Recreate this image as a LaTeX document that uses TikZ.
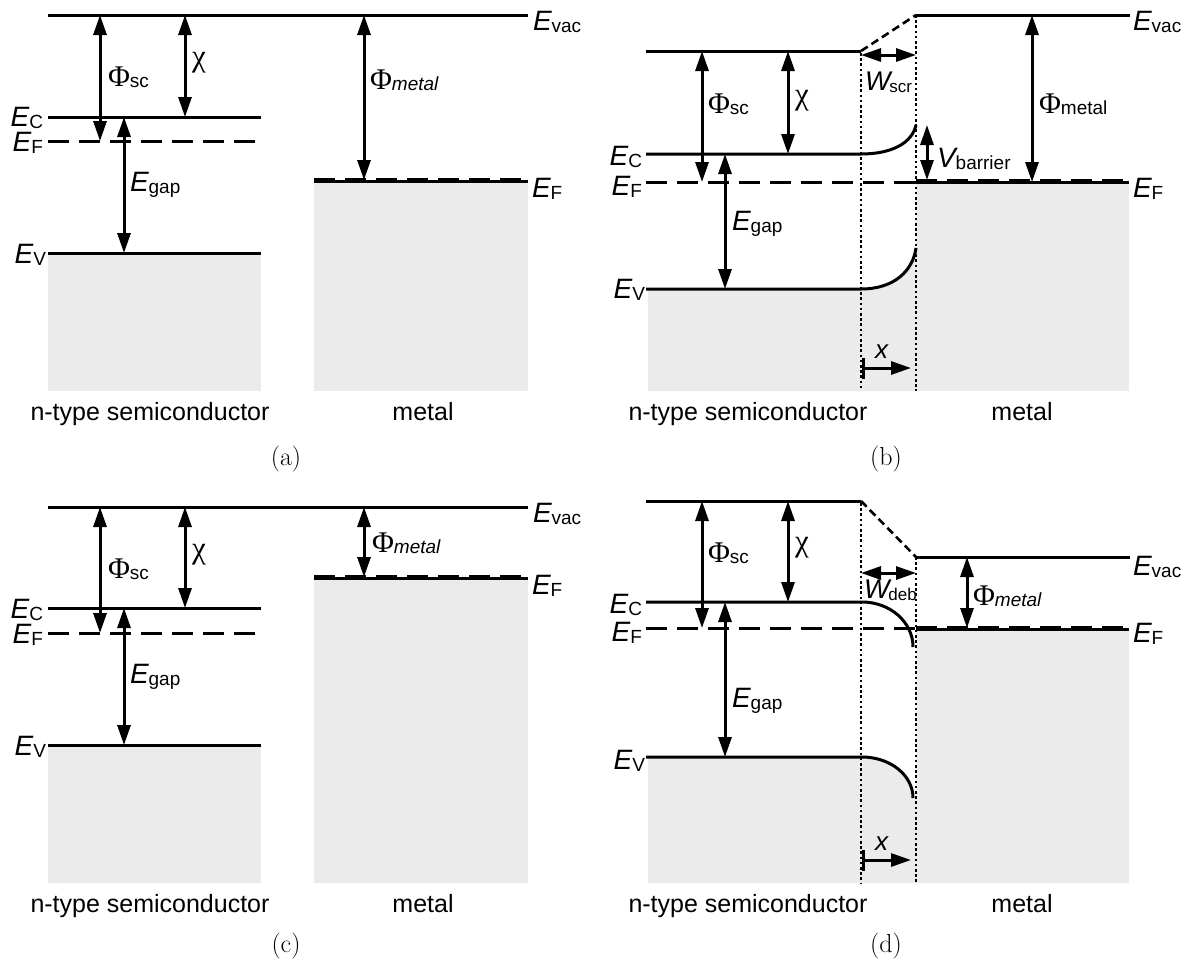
\documentclass[tikz,border=0pt]{standalone}
\usepackage{fontspec}
\newfontfamily\hv{Liberation Sans}
\newfontfamily\grk{Liberation Serif}
\usetikzlibrary{arrows.meta}
\newcommand\elab[2]{{\hv\fontsize{28}{30}\selectfont\itshape #1}\raisebox{-2pt}{\hv\fontsize{19}{21}\selectfont #2}}
\newcommand\wlab[1]{{\hv\fontsize{27}{29}\selectfont\itshape W}\kern-1pt\raisebox{-2pt}{\hv\fontsize{17}{19}\selectfont #1}}
\newcommand\philab[1]{{\grk\fontsize{30}{32}\selectfont Φ}\raisebox{-1pt}{\hv\fontsize{19}{21}\selectfont #1}}
\newcommand\chilab{{\grk\fontsize{31}{33}\selectfont χ}}
\newcommand\captxt[1]{{\hv\fontsize{25}{28}\selectfont #1}}
\newcommand\subcap[1]{{\fontsize{26}{28}\selectfont (#1)}}
\begin{document}
\begin{tikzpicture}[x=1pt,y=-1pt,
  lev/.style={line width=3pt},
  fermi/.style={line width=3pt, dash pattern=on 21pt off 10pt},
  dimarr/.style={line width=3pt, {Triangle[length=20pt,width=13pt]}-{Triangle[length=20pt,width=13pt]}},
  xarr/.style={line width=3pt, {Bar[width=21pt]}-{Triangle[length=20pt,width=13pt]}},
  dotl/.style={line width=2.6pt, dash pattern=on 2.6pt off 2.6pt},
  slant/.style={line width=2.6pt, dash pattern=on 8pt off 4.5pt},
  band/.style={fill=black!8, draw=none},
  lab/.style={inner sep=0pt, outer sep=0pt}]
\useasboundingbox (0,0) rectangle (1190,959);

% ================= (a) =================
\fill[band] (48,253) rectangle (261,391);
\fill[band] (314,180) rectangle (528,391);
\draw[lev] (48,15) -- (528,15);
\draw[lev] (48,117) -- (261,117);
\draw[fermi] (48,141) -- (255,141);
\draw[lev] (48,253) -- (261,253);
\draw[lev] (314,181.5) -- (528,181.5);
\draw[fermi] (314,179.5) -- (528,179.5);
\draw[dimarr] (100,15) -- (100,141);
\draw[dimarr] (185,15) -- (185,117);
\draw[dimarr] (124,117) -- (124,253);
\draw[dimarr] (364,15) -- (364,180);
\node[lab, anchor=base east] (ecA) at (43,126) {\elab{E}{C}};
\node[lab, anchor=base east] (efA) at (43,151) {\elab{E}{F}};
\node[lab, anchor=base east] (evA) at (46,263) {\elab{E}{V}};
\node[lab, anchor=base west] (evacA) at (533,30) {\elab{E}{vac}};
\node[lab, anchor=base west] (efmA) at (532,197) {\elab{E}{F}};
\node[lab, anchor=base west] (phiscA) at (108,86) {\philab{sc}};
\node[lab, anchor=base west] (chiA) at (192,66) {\chilab};
\node[lab, anchor=base west] (egapA) at (130,191) {\elab{E}{gap}};
\node[lab, anchor=base west] (phimA) at (370,89) {\philab{\itshape metal}};
\node[lab, anchor=base] (scA) at (150,420) {\captxt{n-type semiconductor}};
\node[lab, anchor=base] (mA) at (423,420) {\captxt{metal}};
\node[lab, anchor=base] (capA) at (286,465) {\subcap{a}};

% ================= (b) =================
\fill[band] (648,289) -- (861,289) .. controls (895,289) and (913,270) .. (916,248) -- (916,391) -- (648,391) -- cycle;
\fill[band] (916,182) rectangle (1129,391);
\draw[lev] (646,51) -- (861,51);
\draw[slant] (861,51) -- (916,15);
\draw[lev] (916,15) -- (1130,15);
\draw[lev] (646,154) -- (861,154) .. controls (892,154) and (912,143) .. (916,125);
\draw[fermi] (646,182) -- (916,182);
\draw[lev] (916,182) -- (1129,182);
\draw[fermi] (916,180) -- (1129,180);
\draw[lev] (646,289) -- (861,289) .. controls (895,289) and (913,270) .. (916,248);
\draw[dotl] (861,53) -- (861,391);
\draw[dotl] (916,15) -- (916,391);
\draw[dimarr] (702,51) -- (702,182);
\draw[dimarr] (788,51) -- (788,154);
\draw[dimarr] (725,154) -- (725,289);
\draw[dimarr] (861,55) -- (916,55);
\draw[dimarr] (927,125) -- (927,180);
\draw[dimarr] (1032,15) -- (1032,182);
\draw[xarr] (862,368) -- (911,368);
\node[lab, anchor=base east] (ecB) at (642,165) {\elab{E}{C}};
\node[lab, anchor=base east] (efB) at (642,195) {\elab{E}{F}};
\node[lab, anchor=base east] (evB) at (645,298) {\elab{E}{V}};
\node[lab, anchor=base west] (evacB) at (1133,30) {\elab{E}{vac}};
\node[lab, anchor=base west] (efmB) at (1133,197) {\elab{E}{F}};
\node[lab, anchor=base west] (phiscB) at (708,113) {\philab{sc}};
\node[lab, anchor=base west] (chiB) at (795,104) {\chilab};
\node[lab, anchor=base west] (egapB) at (732,230) {\elab{E}{gap}};
\node[lab, anchor=base west] (wB) at (865,90) {\wlab{scr}};
\node[lab, anchor=base west] (vB) at (937,167) {\elab{V}{barrier}};
\node[lab, anchor=base west] (phimB) at (1039,113) {\philab{metal}};
\node[lab, anchor=base west] (xB) at (875,358) {{\hv\fontsize{26}{28}\selectfont\itshape x}};
\node[lab, anchor=base] (scB) at (748,420) {\captxt{n-type semiconductor}};
\node[lab, anchor=base] (mB) at (1022,420) {\captxt{metal}};
\node[lab, anchor=base] (capB) at (886,465) {\subcap{b}};

% ================= (c) =================
\fill[band] (48,745) rectangle (261,883);
\fill[band] (314,577) rectangle (528,883);
\draw[lev] (48,507) -- (528,507);
\draw[lev] (48,608) -- (261,608);
\draw[fermi] (48,633) -- (255,633);
\draw[lev] (48,745) -- (261,745);
\draw[lev] (314,578.5) -- (528,578.5);
\draw[fermi] (314,576.5) -- (528,576.5);
\draw[dimarr] (100,507) -- (100,633);
\draw[dimarr] (185,507) -- (185,608);
\draw[dimarr] (124,608) -- (124,745);
\draw[dimarr] (364,507) -- (364,577);
\node[lab, anchor=base east] (ecC) at (43,618) {\elab{E}{C}};
\node[lab, anchor=base east] (efC) at (43,643) {\elab{E}{F}};
\node[lab, anchor=base east] (evC) at (46,755) {\elab{E}{V}};
\node[lab, anchor=base west] (evacC) at (533,522) {\elab{E}{vac}};
\node[lab, anchor=base west] (efmC) at (532,594) {\elab{E}{F}};
\node[lab, anchor=base west] (phiscC) at (108,578) {\philab{sc}};
\node[lab, anchor=base west] (chiC) at (192,558) {\chilab};
\node[lab, anchor=base west] (egapC) at (130,683) {\elab{E}{gap}};
\node[lab, anchor=base west] (phimC) at (372,552) {\philab{\itshape metal}};
\node[lab, anchor=base] (scC) at (150,912) {\captxt{n-type semiconductor}};
\node[lab, anchor=base] (mC) at (423,912) {\captxt{metal}};
\node[lab, anchor=base] (capC) at (286,952) {\subcap{c}};

% ================= (d) =================
\fill[band] (648,757) -- (862,757) .. controls (890,757) and (913,775) .. (913,798) -- (916,798) -- (916,883) -- (648,883) -- cycle;
\fill[band] (916,628) rectangle (1129,883);
\draw[lev] (646,501) -- (861,501);
\draw[slant] (861,501) -- (916,557);
\draw[lev] (916,557) -- (1130,557);
\draw[lev] (646,602) -- (862,602) .. controls (890,602) and (913,622) .. (913,647);
\draw[fermi] (646,628) -- (916,628);
\draw[lev] (916,629) -- (1129,629);
\draw[fermi] (916,627) -- (1129,627);
\draw[lev] (646,757) -- (862,757) .. controls (890,757) and (913,775) .. (913,798);
\draw[dotl] (861,503) -- (861,883);
\draw[dotl] (916,557) -- (916,883);
\draw[dimarr] (702,501) -- (702,628);
\draw[dimarr] (788,501) -- (788,602);
\draw[dimarr] (725,602) -- (725,757);
\draw[dimarr] (861,573) -- (916,573);
\draw[dimarr] (967,557) -- (967,628);
\draw[xarr] (862,860) -- (911,860);
\node[lab, anchor=base east] (ecD) at (642,613) {\elab{E}{C}};
\node[lab, anchor=base east] (efD) at (642,641) {\elab{E}{F}};
\node[lab, anchor=base east] (evD) at (645,769) {\elab{E}{V}};
\node[lab, anchor=base west] (evacD) at (1133,575) {\elab{E}{vac}};
\node[lab, anchor=base west] (efmD) at (1133,642) {\elab{E}{F}};
\node[lab, anchor=base west] (phiscD) at (708,562) {\philab{sc}};
\node[lab, anchor=base west] (chiD) at (795,551) {\chilab};
\node[lab, anchor=base west] (egapD) at (732,707) {\elab{E}{gap}};
\node[lab, anchor=base west] (wD) at (864,598) {\wlab{deb}};
\node[lab, anchor=base west] (phimD) at (973,605) {\philab{\itshape metal}};
\node[lab, anchor=base west] (xD) at (875,850) {{\hv\fontsize{26}{28}\selectfont\itshape x}};
\node[lab, anchor=base] (scD) at (748,912) {\captxt{n-type semiconductor}};
\node[lab, anchor=base] (mD) at (1022,912) {\captxt{metal}};
\node[lab, anchor=base] (capD) at (886,952) {\subcap{d}};
\end{tikzpicture}
\end{document}
